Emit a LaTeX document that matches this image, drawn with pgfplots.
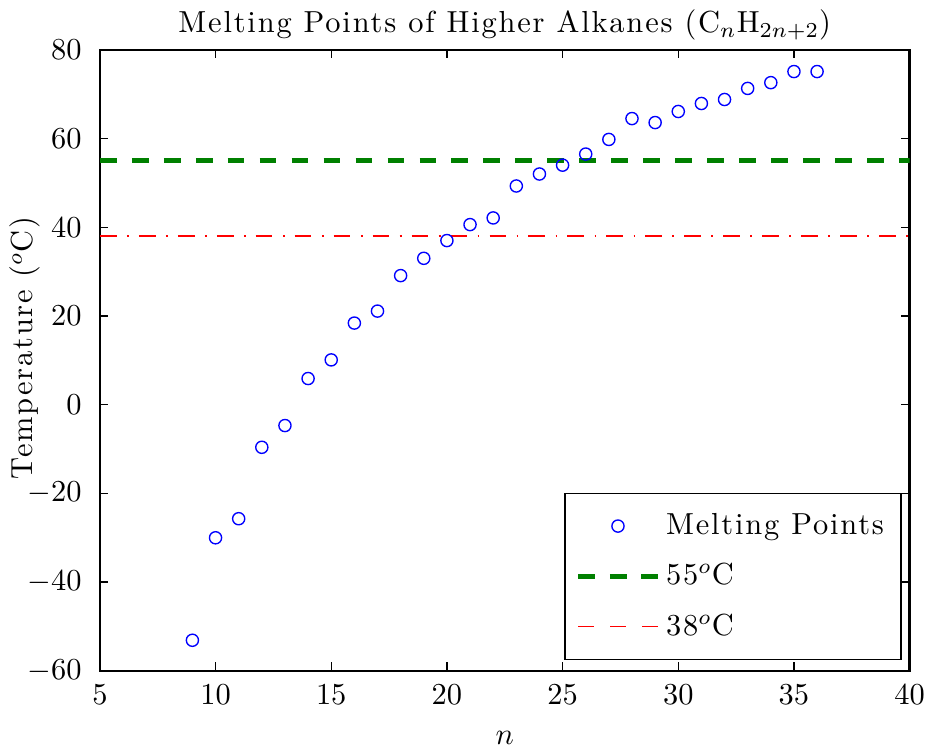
\documentclass[border=0pt]{standalone}
\usepackage{fontspec}
\setmainfont{Latin Modern Roman}[LetterSpace=6]
\usepackage{pgfplots}
\pgfplotsset{compat=1.18}
\definecolor{mgreen}{rgb}{0,0.5,0}
\definecolor{mred}{rgb}{1,0,0}
\begin{document}
\begin{tikzpicture}
\begin{axis}[
  scale only axis,
  width=266pt, height=204pt,
  xmin=5, xmax=40, ymin=-60, ymax=80,
  xtick={5,10,...,40}, ytick={-60,-40,...,80},
  tick align=inside, tick pos=both,
  major tick length=2.8pt,
  axis line style={line width=0.8pt},
  every tick/.style={black, line width=0.45pt},
  yticklabel style={xshift=-2.5pt},
  xticklabel style={yshift=-1pt},
  title={Melting Points of Higher Alkanes (C$_n$H$_{2n+2}$)},
  title style={yshift=-6.5pt},
  xlabel={$n$}, ylabel={Temperature ($^o$C)},
  xlabel style={yshift=-2pt},
  ylabel style={at={(axis description cs:-0.092,0.52)}, anchor=center},
  legend style={at={(0.99,0.017)}, anchor=south east, draw=black, line width=0.55pt,
    row sep=4pt, inner xsep=3.5pt, inner ysep=4.5pt, font=\normalsize,
    legend cell align=left},
  legend image code/.code={\draw[#1] (0pt,0pt) -- (26pt,0pt);},
]
\addplot[only marks, mark=o, mark size=2pt, blue, mark options={line width=0.45pt},
  legend image code/.code={\draw[blue, line width=0.45pt] (13pt,0pt) circle (2pt);}]
coordinates {
(9,-53.1) (10,-30) (11,-25.7) (12,-9.6) (13,-4.7) (14,5.9) (15,10.1) (16,18.4)
(17,21.1) (18,29.1) (19,33) (20,37) (21,40.6) (22,42.1) (23,49.3) (24,52)
(25,54) (26,56.5) (27,59.8) (28,64.5) (29,63.6) (30,66.1) (31,67.9) (32,68.8)
(33,71.3) (34,72.6) (35,75.1) (36,75.1)
};
\addlegendentry{Melting Points}
\addplot[draw=mgreen, line width=1.6pt, dash pattern=on 5.5pt off 5pt,
  legend image code/.code={\draw[draw=mgreen, line width=1.6pt, dash pattern=on 5.5pt off 4.8pt] (0pt,0pt) -- (26pt,0pt);}]
coordinates {(5,55) (40,55)};
\addlegendentry{55$^o$C}
\addplot[draw=mred, line width=0.6pt, dash pattern=on 5.5pt off 3.4pt on 0.6pt off 3.3pt,
  legend image code/.code={\draw[draw=mred, line width=0.5pt, dash pattern=on 5pt off 5.5pt] (0pt,0pt) -- (26pt,0pt);}]
coordinates {(5,38) (40,38)};
\addlegendentry{38$^o$C}
\end{axis}
\end{tikzpicture}
\end{document}
